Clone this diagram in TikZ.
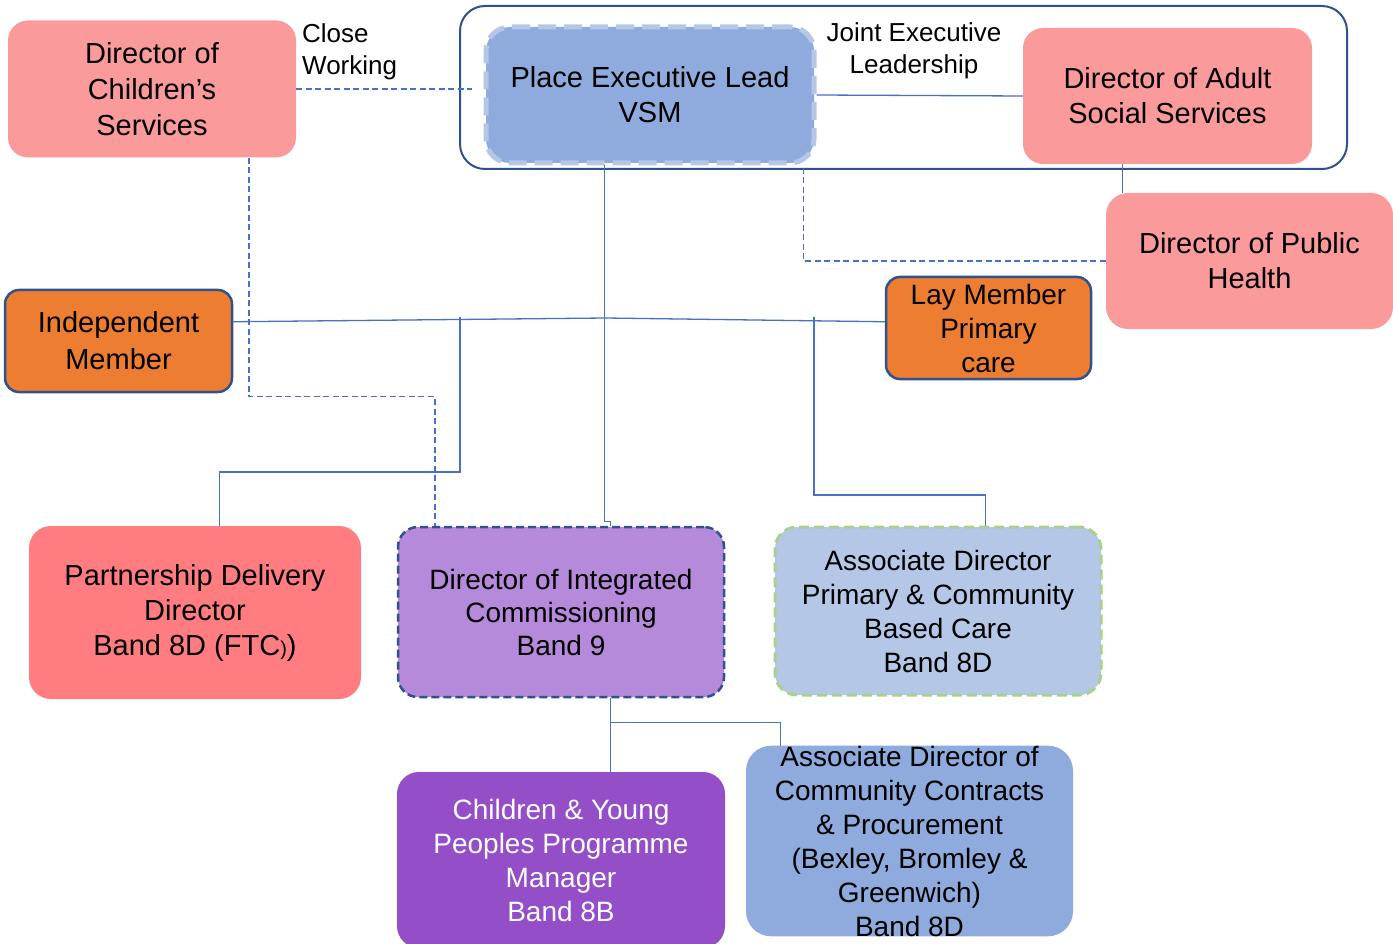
\documentclass[tikz,border=0pt]{standalone}
\usepackage{fontspec}
\setmainfont{Liberation Sans}
\usetikzlibrary{calc}
\definecolor{pinkA}{HTML}{FA9A9A}
\definecolor{pinkB}{HTML}{FF7C80}
\definecolor{blueA}{HTML}{8FAADC}
\definecolor{blueB}{HTML}{B4C7E7}
\definecolor{orangeA}{HTML}{ED7D31}
\definecolor{navy}{HTML}{2F528F}
\definecolor{lavA}{HTML}{B68ADA}
\definecolor{purA}{HTML}{944EC8}
\definecolor{greenA}{HTML}{A9D18E}
\definecolor{lineblue}{HTML}{4472C4}
\begin{document}
\begin{tikzpicture}[x=1pt,y=-1pt,
  box/.style={inner sep=0pt, align=center, rounded corners=20pt},
  fa/.style={font=\fontsize{29}{35}\selectfont},
  fb/.style={font=\fontsize{28}{34}\selectfont},
  lbl/.style={inner sep=0pt, align=center, font=\fontsize{26}{32}\selectfont},
  conn/.style={draw=lineblue, line width=1.3pt},
  dconn/.style={draw=lineblue, line width=1.5pt, dash pattern=on 6pt off 3.5pt},
  cont/.style={draw=navy, line width=2pt, rounded corners=25pt, fill=white, inner sep=0pt}
]
\useasboundingbox (0,0) rectangle (1393,944);

\node[cont, minimum width=887pt, minimum height=163pt] (outer) at (903.5,87.5) {};

\node[box, fill=pinkA, minimum width=288pt, minimum height=137pt,
  font=\fontsize{29}{36}\selectfont] (chs) at (152,89) {Director of\\Children’s\\Services};
\node[box, fa, fill=blueA, draw=blueB, line width=5pt, dash pattern=on 18pt off 8pt,
  rounded corners=24pt, minimum width=328pt, minimum height=136pt] (pel) at (650,95)
  {Place Executive Lead\\VSM};
\node[box, fa, fill=pinkA, minimum width=289pt, minimum height=136pt] (adult) at (1167.5,96)
  {Director of Adult\\Social Services};
\node[box, fa, fill=pinkA, rounded corners=22pt, minimum width=287pt, minimum height=136pt] (ph) at (1249.5,261)
  {Director of Public\\Health};
\node[box, fb, fill=orangeA, draw=navy, line width=2.5pt, rounded corners=14pt,
  minimum width=205pt, minimum height=102pt] (lay) at (988.5,328)
  {Lay Member\\Primary\\care};
\node[box, fill=orangeA, draw=navy, line width=2.5pt, rounded corners=14pt,
  minimum width=227pt, minimum height=102pt, font=\fontsize{29}{37}\selectfont] (ind) at (118.5,341)
  {Independent\\Member};
\node[box, fa, fill=pinkB, rounded corners=22pt, minimum width=332pt, minimum height=173pt] (pdd) at (195,612.5)
  {Partnership Delivery\\Director\\Band 8D (FTC{\fontsize{20}{20}\selectfont)})};
\node[box, fill=lavA, draw=navy, line width=2.5pt, dash pattern=on 8pt off 4pt,
  minimum width=326pt, minimum height=170pt, font=\fontsize{28}{33}\selectfont] (dic) at (561,612)
  {Director of Integrated\\Commissioning\\Band 9};
\node[box, fb, fill=blueB, draw=greenA, line width=3pt, dash pattern=on 10pt off 5pt,
  rounded corners=22pt, minimum width=326pt, minimum height=168pt] (adp) at (938,611)
  {Associate Director\\Primary \& Community\\Based Care\\Band 8D};
\node[box, fb, fill=purA, text=white, rounded corners=22pt, minimum width=328pt, minimum height=176pt] (cyp) at (561,860)
  {Children \& Young\\Peoples Programme\\Manager\\Band 8B};
\node[box, fb, fill=blueA, rounded corners=25pt, minimum width=327pt, minimum height=186pt] (acc) at (909.5,841)
  {Associate Director of\\Community Contracts\\\& Procurement\\(Bexley, Bromley \&\\Greenwich)\\Band 8D};

\node[lbl, anchor=west, align=left] (cw) at (302,52) {Close\\Working};
\node[lbl] (jel) at (914,51) {Joint Executive\\Leadership};

% connectors
\draw[conn] (pel.east) -- (adult.west);
\coordinate (a1) at ($(adult.south west)+(100,0)$);
\draw[conn] (a1) -- (a1 |- ph.north);
\coordinate (p1) at ($(pel.south east)+(-13,0)$);
\draw[dconn] (ph.west) -| (p1);
\coordinate (cwend) at ($(outer.west)+(13,1)$);
\draw[dconn] (chs.east) -- (chs.east -| cwend);
\coordinate (c1) at ($(chs.south west)+(241,0)$);
\coordinate (d1) at ($(dic.north west)+(38,0)$);
\draw[dconn] (c1) -- ++(0,239) -| (d1);
\coordinate (p2) at ($(pel.south west)+(121,0)$);
\draw[conn] (p2) -- ++(0,356) -| ($(dic.north west)+(214,0)$);
\coordinate (il) at ($(ind.north east)+(0,33)$);
\coordinate (hj) at (605.5,318);
\coordinate (ll) at ($(lay.north west)+(0,46)$);
\draw[conn] (il) -- (hj) -- (ll);
\draw[conn] ($(hj)+(-145.5,-1)$) -- ++(0,155) -| ($(pdd.north west)+(191,0)$);
\draw[conn] ($(hj)+(208.5,-1)$) -- ++(0,178) -| ($(adp.north west)+(212,0)$);
\coordinate (d2) at ($(dic.south west)+(214,0)$);
\draw[conn] (d2) -- (d2 |- cyp.north);
\draw[conn] ($(d2)+(0,24)$) -| ($(acc.north west)+(35,0)$);
\end{tikzpicture}
\end{document}
